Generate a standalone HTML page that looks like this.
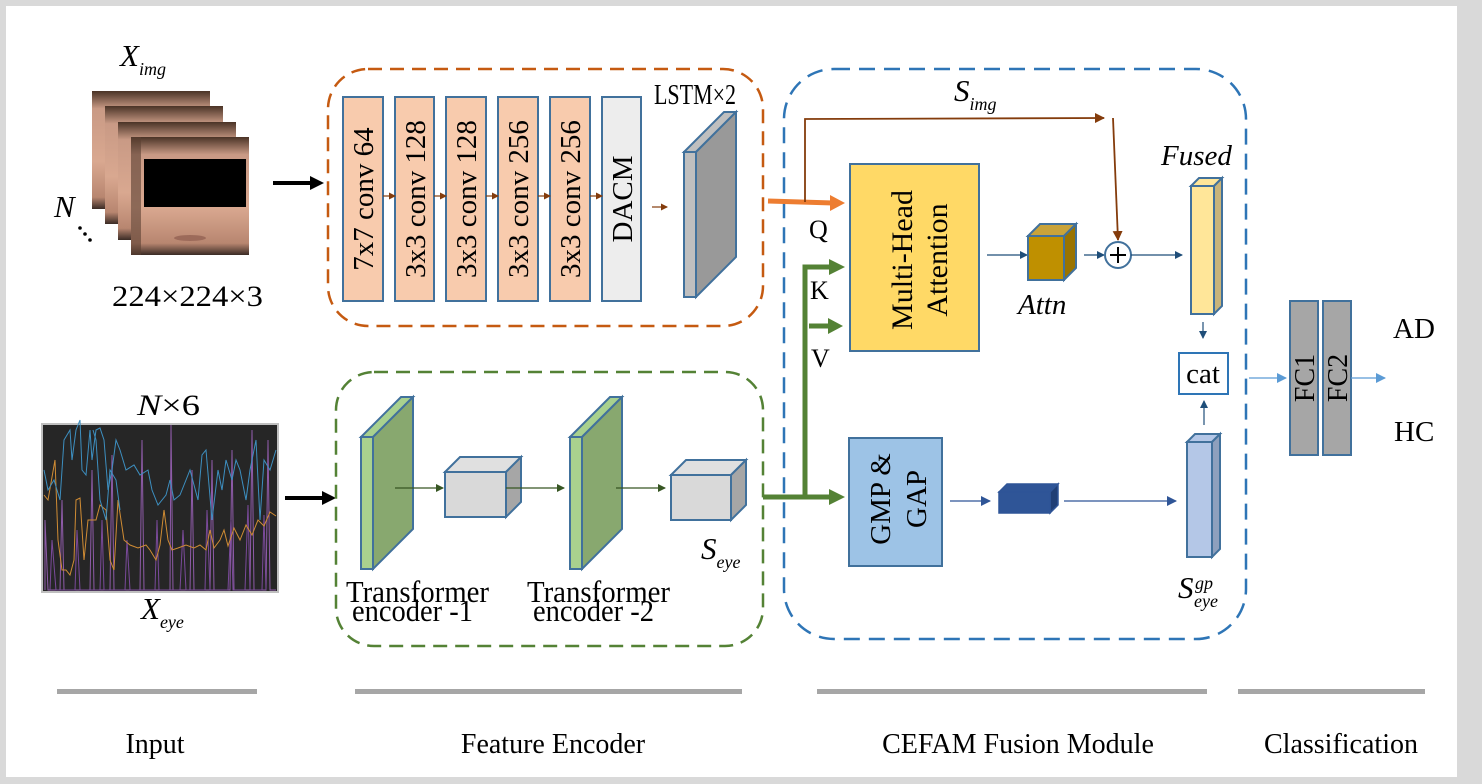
<!DOCTYPE html>
<html><head><meta charset="utf-8"><style>
html,body{margin:0;padding:0;background:#d9d9d9;}
svg{display:block;font-family:"Liberation Serif",serif;}
</style></head><body>
<svg width="1482" height="784" viewBox="0 0 1482 784" xmlns="http://www.w3.org/2000/svg">
<defs>
<marker id="ab" markerWidth="8" markerHeight="8" refX="7" refY="4" orient="auto" markerUnits="userSpaceOnUse"><path d="M0,0 L8,4 L0,8z" fill="#1f4e79"/></marker>
<marker id="abl" markerWidth="10" markerHeight="10" refX="9" refY="5" orient="auto" markerUnits="userSpaceOnUse"><path d="M0,0 L10,5 L0,10z" fill="#2f5597"/></marker>
<marker id="alb" markerWidth="10" markerHeight="10" refX="9" refY="5" orient="auto" markerUnits="userSpaceOnUse"><path d="M0,0 L10,5 L0,10z" fill="#5b9bd5"/></marker>
<marker id="abr" markerWidth="10" markerHeight="10" refX="9" refY="5" orient="auto" markerUnits="userSpaceOnUse"><path d="M0,0 L10,5 L0,10z" fill="#843c0c"/></marker>
<marker id="abr2" markerWidth="7" markerHeight="7" refX="6" refY="3.5" orient="auto" markerUnits="userSpaceOnUse"><path d="M0,0 L7,3.5 L0,7z" fill="#843c0c"/></marker>
<marker id="agr" markerWidth="8" markerHeight="8" refX="7" refY="4" orient="auto" markerUnits="userSpaceOnUse"><path d="M0,0 L8,4 L0,8z" fill="#375623"/></marker>
<linearGradient id="skin" x1="0" y1="0" x2="0" y2="1"><stop offset="0" stop-color="#4a3326"/><stop offset="0.15" stop-color="#c99a85"/><stop offset="0.6" stop-color="#d9a890"/><stop offset="0.9" stop-color="#b88670"/><stop offset="1" stop-color="#3a2b25"/></linearGradient>
</defs>
<rect x="6" y="6" width="1451" height="771" fill="#fff"/>

<!-- faces -->
<g>
<rect x="92" y="91" width="118" height="118" fill="url(#skin)"/>
<rect x="105" y="106" width="118" height="118" fill="url(#skin)"/>
<rect x="118" y="122" width="118" height="118" fill="url(#skin)"/>
<rect x="131" y="137" width="118" height="118" fill="url(#skin)"/>
<rect x="131" y="137" width="10" height="118" fill="#5a4032" opacity="0.6"/>
<rect x="144" y="159" width="102" height="48" fill="#000"/>
<ellipse cx="190" cy="238" rx="16" ry="3" fill="#9c6a5a"/>
</g>
<text x="120" y="66" font-size="31" font-style="italic">X<tspan font-size="18" dy="9">img</tspan></text>
<text x="54" y="217" font-size="31" font-style="italic">N</text>
<circle cx="80" cy="228" r="1.8"/><circle cx="85" cy="234" r="1.8"/><circle cx="90" cy="240" r="1.8"/>
<text x="112" y="306" font-size="30" textLength="151" lengthAdjust="spacingAndGlyphs">224×224×3</text>
<line x1="273" y1="183" x2="314" y2="183" stroke="#000" stroke-width="4"/>
<path d="M310,176 L324,183 L310,190z"/>

<!-- orange dashed box -->
<rect x="328" y="69" width="435" height="257" rx="40" fill="none" stroke="#c55a11" stroke-width="2.5" stroke-dasharray="14,8"/>
<g stroke="#41719c" stroke-width="2">
<rect x="343" y="97" width="40" height="204" fill="#f8cbad"/>
<rect x="395" y="97" width="39" height="204" fill="#f8cbad"/>
<rect x="446" y="97" width="40" height="204" fill="#f8cbad"/>
<rect x="498" y="97" width="40" height="204" fill="#f8cbad"/>
<rect x="550" y="97" width="40" height="204" fill="#f8cbad"/>
<rect x="602" y="97" width="39" height="204" fill="#ededed"/>
</g>
<g font-size="29" text-anchor="middle">
<text transform="translate(373,199) rotate(-90)">7x7 conv 64</text>
<text transform="translate(425,199) rotate(-90)">3x3 conv 128</text>
<text transform="translate(476,199) rotate(-90)">3x3 conv 128</text>
<text transform="translate(528,199) rotate(-90)">3x3 conv 256</text>
<text transform="translate(580,199) rotate(-90)">3x3 conv 256</text>
<text transform="translate(632,199) rotate(-90)">DACM</text>
</g>
<g stroke="#843c0c" stroke-width="1.2" marker-end="url(#abr2)">
<line x1="383" y1="196" x2="395" y2="196"/>
<line x1="434" y1="196" x2="446" y2="196"/>
<line x1="486" y1="196" x2="498" y2="196"/>
<line x1="538" y1="196" x2="550" y2="196"/>
<line x1="590" y1="196" x2="602" y2="196"/>
<line x1="652" y1="207" x2="667" y2="207"/>
</g>
<g stroke="#41719c" stroke-width="2">
<path d="M684,152 L724,112 L736,112 L696,152z" fill="#bfbfbf"/>
<path d="M696,152 L736,112 L736,257 L696,297z" fill="#999"/>
<rect x="684" y="152" width="12" height="145" fill="#bfbfbf"/>
</g>
<text x="654" y="104" font-size="28" textLength="82" lengthAdjust="spacingAndGlyphs">LSTM×2</text>

<!-- eye chart -->
<rect x="42" y="424" width="236" height="168" fill="#262626" stroke="#bfbfbf" stroke-width="2"/>
<g fill="none" stroke-width="1">
<path d="M45,590 L45,520 L48,590 L60,590 L62,500 L64,590 L90,590 L92,470 L94,590 L110,590 L112,455 L114,590 L140,590 L142,440 L144,590 L170,590 L171,425 L173,590 L190,590 L192,470 L194,590 L210,590 L212,460 L214,590 L230,590 L232,450 L234,590 L250,590 L252,430 L254,590 L266,590 L268,440 L270,590 L276,590" stroke="#8e5ba8"/>
<path d="M50,590 L52,540 L56,590 L75,590 L77,530 L80,590 L100,590 L102,520 L104,590 L125,590 L127,540 L130,590 L155,590 L157,520 L159,590 L180,590 L183,530 L186,590 L205,590 L207,510 L210,590 L228,590 L231,520 L233,590 L245,590 L248,505 L250,590 L262,590 L264,515 L266,590" stroke="#7a4a9a"/>
<path d="M44,495 L48,500 L55,460 L58,540 L62,570 L66,570 L70,575 L74,560 L76,500 L80,498 L84,560 L88,520 L96,520 L100,505 L106,510 L110,560 L114,570 L118,500 L124,540 L130,545 L138,548 L146,545 L150,550 L156,560 L160,545 L164,510 L168,540 L172,550 L178,548 L186,545 L194,548 L200,545 L206,550 L210,530 L214,548 L220,540 L224,530 L228,546 L234,528 L240,540 L246,525 L252,535 L258,520 L264,526 L270,512 L276,516" stroke="#d08c34"/>
<path d="M44,470 L48,490 L54,480 L60,500 L64,440 L70,430 L72,460 L76,430 L80,420 L82,470 L86,475 L90,430 L92,460 L96,430 L100,428 L104,440 L108,490 L112,470 L116,440 L120,450 L126,470 L134,465 L140,475 L148,470 L152,490 L158,505 L166,495 L170,480 L174,500 L180,495 L186,480 L190,470 L194,485 L198,500 L202,455 L206,450 L212,520 L218,470 L222,490 L226,460 L232,480 L236,460 L240,470 L246,500 L250,470 L256,440 L260,520 L264,460 L270,470 L276,450" stroke="#3d8fc0"/>
<path d="M93,430 L96,440 L100,500 L106,520 L110,470 L116,480 L120,510" stroke="#3d8fc0"/>
</g>
<text x="137" y="415" font-size="30" textLength="63" lengthAdjust="spacingAndGlyphs"><tspan font-style="italic">N</tspan>×6</text>
<text x="141" y="619" font-size="31" font-style="italic">X<tspan font-size="18" dy="9">eye</tspan></text>
<line x1="285" y1="498" x2="326" y2="498" stroke="#000" stroke-width="4"/>
<path d="M322,491 L336,498 L322,505z"/>

<!-- green dashed box -->
<rect x="336" y="372" width="427" height="274" rx="38" fill="none" stroke="#548235" stroke-width="2.5" stroke-dasharray="14,8"/>
<g stroke="#41719c" stroke-width="2">
<path d="M361,437 L401,397 L413,397 L373,437z" fill="#a9d18e"/>
<path d="M373,437 L413,397 L413,529 L373,569z" fill="#88a86f"/>
<rect x="361" y="437" width="12" height="132" fill="#a9d18e"/>
<path d="M570,437 L610,397 L622,397 L582,437z" fill="#a9d18e"/>
<path d="M582,437 L622,397 L622,529 L582,569z" fill="#88a86f"/>
<rect x="570" y="437" width="12" height="132" fill="#a9d18e"/>
<path d="M445,472 L460,457 L521,457 L506,472z" fill="#e0e0e0"/>
<path d="M506,472 L521,457 L521,502 L506,517z" fill="#a6a6a6"/>
<rect x="445" y="472" width="61" height="45" fill="#d9d9d9"/>
<path d="M671,475 L686,460 L746,460 L731,475z" fill="#e0e0e0"/>
<path d="M731,475 L746,460 L746,505 L731,520z" fill="#a6a6a6"/>
<rect x="671" y="475" width="60" height="45" fill="#d9d9d9"/>
</g>
<g stroke="#375623" stroke-width="1.2" marker-end="url(#agr)">
<line x1="395" y1="488" x2="443" y2="488"/>
<line x1="506" y1="488" x2="564" y2="488"/>
<line x1="616" y1="488" x2="665" y2="488"/>
</g>
<g font-size="31">
<text x="346" y="602" textLength="143" lengthAdjust="spacingAndGlyphs">Transformer</text>
<text x="352" y="621" textLength="121" lengthAdjust="spacingAndGlyphs">encoder -1</text>
<text x="527" y="602" textLength="143" lengthAdjust="spacingAndGlyphs">Transformer</text>
<text x="533" y="621" textLength="121" lengthAdjust="spacingAndGlyphs">encoder -2</text>
</g>
<text x="701" y="559" font-size="31" font-style="italic">S<tspan font-size="18" dy="9">eye</tspan></text>

<!-- blue dashed box -->
<rect x="784" y="69" width="462" height="570" rx="50" fill="none" stroke="#2e75b6" stroke-width="2.5" stroke-dasharray="16,9"/>
<line x1="768" y1="201" x2="833" y2="203" stroke="#ed7d31" stroke-width="5"/>
<path d="M830,195 L845,203 L830,211z" fill="#ed7d31"/>
<polyline points="805,202 805,119 1104,118" fill="none" stroke="#843c0c" stroke-width="1.8" marker-end="url(#abr)"/>
<line x1="1113" y1="118" x2="1118" y2="240" stroke="#843c0c" stroke-width="1.8" marker-end="url(#abr)"/>
<text x="954" y="101" font-size="31" font-style="italic">S<tspan font-size="18" dy="9">img</tspan></text>
<g stroke="#548235" stroke-width="5" fill="none">
<line x1="763" y1="497" x2="833" y2="497"/>
<polyline points="805,497 805,267 833,267"/>
<line x1="809" y1="326" x2="832" y2="326"/>
</g>
<g fill="#548235">
<path d="M829,489 L845,497 L829,505z"/>
<path d="M829,259 L845,267 L829,275z"/>
<path d="M828,318 L843,326 L828,334z"/>
</g>
<g font-size="26"><text x="809" y="238">Q</text><text x="810" y="299">K</text><text x="811" y="367">V</text></g>
<rect x="850" y="164" width="129" height="187" fill="#ffd966" stroke="#41719c" stroke-width="2"/>
<g font-size="30" text-anchor="middle">
<text transform="translate(912,260) rotate(-90)">Multi-Head</text>
<text transform="translate(947,260) rotate(-90)">Attention</text>
</g>
<line x1="987" y1="255" x2="1027" y2="255" stroke="#1f4e79" stroke-width="1.2" marker-end="url(#ab)"/>
<g stroke="#41719c" stroke-width="2">
<path d="M1028,236 L1040,224 L1076,224 L1064,236z" fill="#c9a33a"/>
<path d="M1064,236 L1076,224 L1076,268 L1064,280z" fill="#997300"/>
<rect x="1028" y="236" width="36" height="44" fill="#bf9000"/>
</g>
<text x="1018" y="314" font-size="29" font-style="italic">Attn</text>
<line x1="1084" y1="255" x2="1104" y2="255" stroke="#1f4e79" stroke-width="1.2" marker-end="url(#ab)"/>
<circle cx="1118" cy="255" r="13" fill="#fff" stroke="#41719c" stroke-width="2"/>
<path d="M1110,255 H1126 M1118,247 V263" stroke="#000" stroke-width="2"/>
<line x1="1131" y1="255" x2="1182" y2="255" stroke="#1f4e79" stroke-width="1.2" marker-end="url(#ab)"/>
<g stroke="#41719c" stroke-width="2">
<path d="M1191,186 L1199,178 L1222,178 L1214,186z" fill="#ffe699"/>
<path d="M1214,186 L1222,178 L1222,306 L1214,314z" fill="#c9b47a"/>
<rect x="1191" y="186" width="23" height="128" fill="#ffe699"/>
</g>
<text x="1161" y="165" font-size="29" font-style="italic">Fused</text>
<line x1="1203" y1="322" x2="1203" y2="338" stroke="#1f4e79" stroke-width="1.2" marker-end="url(#ab)"/>
<rect x="1179" y="353" width="49" height="41" fill="#fff" stroke="#2e75b6" stroke-width="2"/>
<text x="1203" y="383" font-size="29" text-anchor="middle">cat</text>
<line x1="1204" y1="425" x2="1204" y2="401" stroke="#1f4e79" stroke-width="1.2" marker-end="url(#ab)"/>
<rect x="849" y="438" width="93" height="128" fill="#9dc3e6" stroke="#41719c" stroke-width="2"/>
<g font-size="29" text-anchor="middle">
<text transform="translate(890,499) rotate(-90)">GMP &amp;</text>
<text transform="translate(926,499) rotate(-90)">GAP</text>
</g>
<line x1="950" y1="501" x2="990" y2="501" stroke="#2f5597" stroke-width="1.2" marker-end="url(#abl)"/>
<g stroke="#2f5597" stroke-width="1.5">
<path d="M999,492 L1007,484 L1058,484 L1050,492z" fill="#2f5597"/>
<path d="M1050,492 L1058,484 L1058,505 L1050,513z" fill="#203f75"/>
<rect x="999" y="492" width="51" height="21" fill="#2f5597"/>
</g>
<line x1="1064" y1="501" x2="1176" y2="501" stroke="#2f5597" stroke-width="1.2" marker-end="url(#abl)"/>
<g stroke="#41719c" stroke-width="2">
<path d="M1187,442 L1195,434 L1220,434 L1212,442z" fill="#b4c7e7"/>
<path d="M1212,442 L1220,434 L1220,549 L1212,557z" fill="#8ea0bd"/>
<rect x="1187" y="442" width="25" height="115" fill="#b4c7e7"/>
</g>
<text x="1178" y="598" font-size="31" font-style="italic">S</text>
<text x="1195" y="589" font-size="18" font-style="italic">gp</text>
<text x="1194" y="607" font-size="18" font-style="italic">eye</text>

<line x1="1249" y1="378" x2="1286" y2="378" stroke="#5b9bd5" stroke-width="1.2" marker-end="url(#alb)"/>
<rect x="1290" y="301" width="28" height="154" fill="#a6a6a6" stroke="#41719c" stroke-width="2"/>
<rect x="1323" y="301" width="28" height="154" fill="#a6a6a6" stroke="#41719c" stroke-width="2"/>
<g font-size="28" text-anchor="middle">
<text transform="translate(1314,378) rotate(-90)">FC1</text>
<text transform="translate(1347,378) rotate(-90)">FC2</text>
</g>
<line x1="1351" y1="378" x2="1385" y2="378" stroke="#5b9bd5" stroke-width="1.2" marker-end="url(#alb)"/>
<text x="1393" y="338" font-size="29">AD</text>
<text x="1394" y="441" font-size="29">HC</text>

<g fill="#a6a6a6">
<rect x="57" y="689" width="200" height="5"/>
<rect x="355" y="689" width="387" height="5"/>
<rect x="817" y="689" width="390" height="5"/>
<rect x="1238" y="689" width="187" height="5"/>
</g>
<g font-size="28" text-anchor="middle">
<text x="155" y="753">Input</text>
<text x="553" y="753">Feature Encoder</text>
<text x="1018" y="753">CEFAM Fusion Module</text>
<text x="1341" y="753">Classification</text>
</g>
</svg>
</body></html>
